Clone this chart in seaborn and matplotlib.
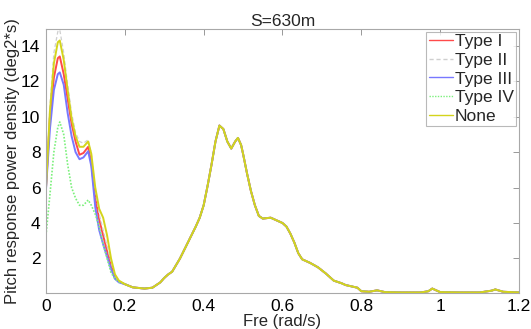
import numpy as np
import pandas as pd
import matplotlib
matplotlib.use("Agg")
import matplotlib.pyplot as plt
import seaborn as sns

# Low-frequency band, where the five configurations differ
freq_head = [0.0, 0.01, 0.02, 0.03, 0.035, 0.045, 0.055, 0.065, 0.075, 0.085,
             0.095, 0.107, 0.115, 0.125, 0.135, 0.145, 0.155, 0.165, 0.175, 0.185]
type1_head = [6.0, 10.0, 12.2, 13.3, 13.4, 12.4, 11.0, 9.6, 8.6, 7.85,
              7.95, 8.3, 7.4, 5.4, 4.2, 3.3, 2.4, 1.6, 0.95, 0.7]
type2_head = [6.2, 10.6, 13.6, 14.8, 14.9, 13.6, 11.8, 10.2, 9.1, 8.6,
              8.5, 8.7, 7.9, 5.8, 4.5, 3.6, 2.7, 1.8, 1.0, 0.72]
type3_head = [5.9, 9.3, 11.5, 12.4, 12.5, 11.8, 10.2, 8.9, 8.0, 7.6,
              7.7, 8.05, 7.2, 4.9, 3.6, 2.8, 2.1, 1.4, 0.85, 0.65]
type4_head = [3.3, 5.6, 8.0, 9.4, 9.7, 9.0, 7.3, 6.0, 5.4, 5.0,
              5.0, 5.3, 5.0, 4.5, 3.8, 2.8, 2.0, 1.2, 0.85, 0.68]
none_head = [6.0, 10.3, 13.0, 14.2, 14.3, 13.2, 11.5, 9.9, 8.9, 8.3,
             8.3, 8.6, 7.9, 6.0, 4.8, 4.3, 3.3, 2.0, 1.1, 0.75]

# Wave-frequency band, common to all configurations
freq_tail = [0.2, 0.22, 0.25, 0.27, 0.29, 0.3, 0.31, 0.32, 0.34, 0.36, 0.38,
             0.39, 0.4, 0.41, 0.42, 0.43, 0.44, 0.45, 0.46, 0.47, 0.48, 0.487,
             0.495, 0.5, 0.51, 0.52, 0.53, 0.54, 0.55, 0.57, 0.59, 0.6, 0.61,
             0.62, 0.63, 0.64, 0.65, 0.67, 0.69, 0.71, 0.73, 0.75, 0.76, 0.78,
             0.79, 0.8, 0.82, 0.84, 0.86, 0.9, 0.95, 0.97, 0.98, 0.99, 1.0,
             1.05, 1.1, 1.13, 1.14, 1.16, 1.2]
shared_tail = [0.55, 0.37, 0.3, 0.35, 0.65, 0.9, 1.1, 1.25, 2.0, 2.9, 3.8,
               4.3, 5.0, 6.1, 7.3, 8.6, 9.5, 9.3, 8.6, 8.2, 8.6, 8.8,
               8.4, 7.9, 6.8, 5.8, 5.0, 4.4, 4.25, 4.3, 4.1, 4.0, 3.8,
               3.4, 2.9, 2.3, 1.95, 1.75, 1.5, 1.15, 0.75, 0.6, 0.5, 0.4,
               0.35, 0.15, 0.12, 0.2, 0.1, 0.08, 0.08, 0.15, 0.3, 0.2, 0.1,
               0.08, 0.08, 0.18, 0.25, 0.12, 0.08]

labels = ["Type I", "Type II", "Type III", "Type IV", "None"]
heads = [type1_head, type2_head, type3_head, type4_head, none_head]
colors = ["#ff4a4a", "#cfcfcf", "#7878ff", "#7cf07c", "#d4d41c"]
widths = [1.4, 0.9, 1.4, 1.2, 1.4]
dashes = ["", (3, 2), "", (1, 1), ""]

rows = []
for lab, head in zip(labels, heads):
    for f, v in zip(freq_head + freq_tail, head + shared_tail):
        rows.append({"freq": f, "psd": v, "case": lab})
df = pd.DataFrame(rows)

sns.set_style("white")
plt.rcParams["font.family"] = ["Liberation Sans", "DejaVu Sans"]

fig = plt.figure(figsize=(5.31, 3.29), dpi=100)
ax = fig.add_axes([0.0866, 0.1094, 0.8908, 0.8026])

sns.lineplot(data=df, x="freq", y="psd", hue="case", hue_order=labels,
             palette=colors, style="case", style_order=labels,
             dashes=dashes, size="case", size_order=labels, sizes=widths,
             sort=False, estimator=None, ax=ax, legend=True)

ax.set_xlim(0, 1.2)
ax.set_ylim(0.05, 14.95)
ax.set_xticks([0, 0.2, 0.4, 0.6, 0.8, 1.0, 1.2])
ax.set_xticklabels(["0", "0.2", "0.4", "0.6", "0.8", "1", "1.2"])
ax.set_yticks([2, 4, 6, 8, 10, 12, 14])
ax.tick_params(direction="in", length=4, width=0.6, color="#888888",
               top=True, right=True, labelsize=12.5, pad=4,
               labelcolor="black")
for s in ax.spines.values():
    s.set_color("#a8a8a8")
    s.set_linewidth(0.8)

ax.set_title("S=630m", fontsize=12.5, pad=2)
ax.set_xlabel("Fre (rad/s)", fontsize=12, labelpad=0)
ax.set_ylabel("Pitch response power density (deg2*s)", fontsize=12,
              labelpad=1)

handles, labs = ax.get_legend_handles_labels()
for h in handles:
    h.set_linewidth(1.0)
leg = ax.legend(handles, labs, loc="upper right", fontsize=12.5,
                frameon=True, fancybox=False, borderpad=0.15,
                labelspacing=0.2, handlelength=1.4, handletextpad=0.1,
                borderaxespad=0.15)
leg.get_frame().set_edgecolor("#a8a8a8")
leg.get_frame().set_linewidth(0.8)

fig.savefig("out.png", dpi=100)
